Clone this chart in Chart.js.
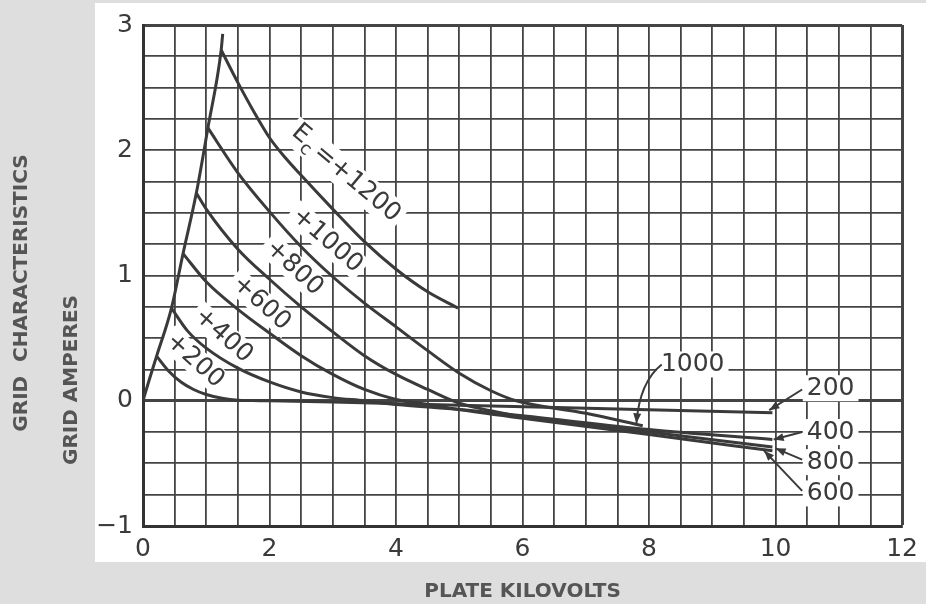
<!DOCTYPE html>
<html>
<head>
<meta charset="utf-8">
<script src="https://cdn.jsdelivr.net/npm/chart.js@4.4.1/dist/chart.umd.min.js"></script>
<style>
  html, body { margin: 0; padding: 0; background: #dedede; }
  #wrap { width: 926px; height: 604px; }
</style>
</head>
<body>
<div id="wrap"><canvas id="gridChart" width="926" height="604"></canvas></div>
<script>
// plate kilovolts vs grid amperes, one curve per grid voltage Ec
const xTickValues = [0, 2, 4, 6, 8, 10, 12];
const xTickLabels = ['0', '2', '4', '6', '8', '10', '12'];
const yTickValues = [-1, 0, 1, 2, 3];
const yTickLabels = ['\u22121', '0', '1', '2', '3'];

const envelope = [[0, 0], [0.1, 0.17], [0.215, 0.356], [0.45, 0.74], [0.633, 1.175], [0.843, 1.658], [1.026, 2.178], [1.236, 2.80], [1.26, 2.93]];
const ec200 = [[0.215, 0.356], [0.4, 0.24], [0.6, 0.15], [0.8, 0.09], [1.0, 0.05], [1.25, 0.02], [1.5, 0.005], [2, 0], [3, -0.01], [5, -0.035], [7.5, -0.065], [9.95, -0.095]];
const ec400 = [[0.45, 0.74], [0.7, 0.56], [1.0, 0.42], [1.5, 0.26], [2.0, 0.15], [2.5, 0.07], [3.0, 0.025], [3.5, 0.0], [4, -0.03], [5, -0.07], [6, -0.12], [8, -0.23], [9.95, -0.31]];
const ec600 = [[0.633, 1.175], [1.0, 0.95], [1.5, 0.73], [2.0, 0.54], [2.5, 0.36], [3.0, 0.21], [3.5, 0.09], [4.0, 0.01], [4.5, -0.03], [5, -0.07], [6, -0.14], [8, -0.27], [9.95, -0.40]];
const ec800 = [[0.843, 1.658], [1.0, 1.53], [1.5, 1.21], [2.0, 0.97], [2.5, 0.75], [3.0, 0.55], [3.5, 0.36], [4.0, 0.21], [4.5, 0.09], [5, -0.02], [5.5, -0.08], [6, -0.13], [8, -0.25], [9.95, -0.37]];
const ec1000 = [[1.026, 2.178], [1.5, 1.82], [2.0, 1.51], [2.5, 1.23], [3.0, 0.99], [3.5, 0.78], [4.0, 0.59], [4.5, 0.40], [5.0, 0.22], [5.5, 0.08], [5.9, 0.0], [7, -0.1], [7.9, -0.2]];
const ec1200 = [[1.236, 2.80], [1.5, 2.54], [1.75, 2.31], [2, 2.10], [2.25, 1.94], [2.5, 1.80], [3, 1.53], [3.5, 1.27], [4, 1.05], [4.5, 0.87], [4.98, 0.74]];

const ink = '#3a3a3a';
const titleInk = '#555555';
const fontFamily = '"DejaVu Sans", sans-serif';

function toPoints(arr) {
    return arr.map(p => ({ x: p[0], y: p[1] }));
}

function curve(label, arr) {
    return {
        label: label,
        data: toPoints(arr),
        borderColor: ink,
        borderWidth: 3,
        pointRadius: 0,
        showLine: true,
        fill: false,
        tension: 0.4,
        cubicInterpolationMode: 'monotone'
    };
}

// text placed along the curves, in data units
const slopeLabels = [
    { text: '+1000', x: 2.91, y: 1.28, angle: 41 },
    { text: '+800', x: 2.39, y: 1.06, angle: 43 },
    { text: '+600', x: 1.87, y: 0.78, angle: 42 },
    { text: '+400', x: 1.27, y: 0.52, angle: 42 },
    { text: '+200', x: 0.82, y: 0.32, angle: 42 }
];

const endLabels = [
    { text: '1000', x: 8.69, y: 0.29, from: [8.2, 0.29], to: [7.8, -0.18], bend: [7.85, 0.15] },
    { text: '200', x: 10.87, y: 0.10, from: [10.42, 0.09], to: [9.9, -0.075] },
    { text: '400', x: 10.87, y: -0.25, from: [10.42, -0.25], to: [9.97, -0.31] },
    { text: '800', x: 10.87, y: -0.49, from: [10.42, -0.47], to: [10.0, -0.38] },
    { text: '600', x: 10.87, y: -0.74, from: [10.42, -0.72], to: [9.82, -0.40] }
];

function sideTitle(ctx, text, x, y) {
    ctx.save();
    ctx.fillStyle = titleInk;
    ctx.font = 'bold 20px ' + fontFamily;
    ctx.textAlign = 'center';
    ctx.textBaseline = 'middle';
    ctx.translate(x, y);
    ctx.rotate(-Math.PI / 2);
    ctx.fillText(text, 0, 0);
    ctx.restore();
}

const paperPlugin = {
    id: 'paper',
    beforeDraw(chart) {
        const ctx = chart.ctx;
        ctx.save();
        ctx.fillStyle = '#dedede';
        ctx.fillRect(0, 0, chart.width, chart.height);
        ctx.fillStyle = '#ffffff';
        ctx.fillRect(95, 3, chart.width - 95, 559);
        ctx.restore();
    },
    afterDraw(chart) {
        sideTitle(chart.ctx, 'GRID  CHARACTERISTICS', 22, 293);
        sideTitle(chart.ctx, 'GRID AMPERES', 72, 380);
    }
};

function whiteBox(ctx, w, h) {
    ctx.fillStyle = '#ffffff';
    ctx.fillRect(-w / 2 - 4, -h / 2, w + 8, h);
}

const labelPlugin = {
    id: 'curveLabels',
    beforeDatasetsDraw(chart) {
        const ctx = chart.ctx;
        const xs = chart.scales.x;
        const ys = chart.scales.y;
        ctx.save();
        ctx.font = '25px ' + fontFamily;
        ctx.textBaseline = 'middle';

        slopeLabels.forEach(l => {
            ctx.save();
            ctx.translate(xs.getPixelForValue(l.x), ys.getPixelForValue(l.y));
            ctx.rotate(l.angle * Math.PI / 180);
            const w = ctx.measureText(l.text).width;
            whiteBox(ctx, w, 26);
            ctx.fillStyle = ink;
            ctx.textAlign = 'center';
            ctx.fillText(l.text, 0, 0);
            ctx.restore();
        });

        // Ec = +1200 with subscript c
        ctx.save();
        ctx.translate(xs.getPixelForValue(3.2), ys.getPixelForValue(1.81));
        ctx.rotate(40 * Math.PI / 180);
        ctx.font = '25px ' + fontFamily;
        const wE = ctx.measureText('E').width;
        const wRest = ctx.measureText('=+1200').width;
        ctx.font = '18px ' + fontFamily;
        const wc = ctx.measureText('c').width;
        const total = wE + wc + 4 + wRest;
        whiteBox(ctx, total, 30);
        ctx.fillStyle = ink;
        ctx.textAlign = 'left';
        let cx = -total / 2;
        ctx.font = '25px ' + fontFamily;
        ctx.fillText('E', cx, -2);
        cx += wE;
        ctx.font = '18px ' + fontFamily;
        ctx.fillText('c', cx, 7);
        cx += wc + 4;
        ctx.font = '25px ' + fontFamily;
        ctx.fillText('=+1200', cx, 0);
        ctx.restore();

        endLabels.forEach(l => {
            ctx.save();
            ctx.translate(xs.getPixelForValue(l.x), ys.getPixelForValue(l.y));
            const w = ctx.measureText(l.text).width;
            whiteBox(ctx, w, 26);
            ctx.fillStyle = ink;
            ctx.textAlign = 'center';
            ctx.fillText(l.text, 0, 0);
            ctx.restore();
        });
        ctx.restore();
    },
    afterDatasetsDraw(chart) {
        const ctx = chart.ctx;
        const xs = chart.scales.x;
        const ys = chart.scales.y;
        ctx.save();
        ctx.strokeStyle = ink;
        ctx.fillStyle = ink;
        ctx.lineWidth = 2;
        endLabels.forEach(l => {
            const x0 = xs.getPixelForValue(l.from[0]), y0 = ys.getPixelForValue(l.from[1]);
            const x1 = xs.getPixelForValue(l.to[0]), y1 = ys.getPixelForValue(l.to[1]);
            ctx.beginPath();
            ctx.moveTo(x0, y0);
            let ax = x0, ay = y0;
            if (l.bend) {
                const bx = xs.getPixelForValue(l.bend[0]), by = ys.getPixelForValue(l.bend[1]);
                ctx.quadraticCurveTo(bx, by, x1, y1);
                ax = bx; ay = by;
            } else {
                ctx.lineTo(x1, y1);
            }
            ctx.stroke();
            const a = Math.atan2(y1 - ay, x1 - ax);
            ctx.beginPath();
            ctx.moveTo(x1, y1);
            ctx.lineTo(x1 - 10 * Math.cos(a) + 4 * Math.sin(a), y1 - 10 * Math.sin(a) - 4 * Math.cos(a));
            ctx.lineTo(x1 - 10 * Math.cos(a) - 4 * Math.sin(a), y1 - 10 * Math.sin(a) + 4 * Math.cos(a));
            ctx.closePath();
            ctx.fill();
        });
        ctx.restore();
    }
};

const ctx = document.getElementById('gridChart').getContext('2d');
new Chart(ctx, {
    type: 'scatter',
    data: {
        datasets: [
            curve('envelope', envelope),
            curve('+200', ec200),
            curve('+400', ec400),
            curve('+600', ec600),
            curve('+800', ec800),
            curve('+1000', ec1000),
            curve('+1200', ec1200)
        ]
    },
    options: {
        responsive: false,
        animation: false,
        devicePixelRatio: 1,
        layout: { padding: { left: 0, right: 19, top: 20, bottom: 0 } },
        plugins: {
            legend: { display: false },
            tooltip: { enabled: false }
        },
        scales: {
            x: {
                type: 'linear',
                min: 0,
                max: 12,
                afterFit: s => { s.height = 78; },
                ticks: {
                    stepSize: 0.5,
                    autoSkip: false,
                    maxRotation: 0,
                    padding: 8,
                    color: ink,
                    font: { family: fontFamily, size: 25 },
                    callback: v => {
                        const i = xTickValues.indexOf(v);
                        return i >= 0 ? xTickLabels[i] : '';
                    }
                },
                grid: {
                    color: '#444444',
                    drawTicks: false,
                    lineWidth: c => (c.tick && c.tick.value === 12 ? 3 : 1.8)
                },
                border: { color: '#333333', width: 3 },
                title: {
                    display: true,
                    text: 'PLATE KILOVOLTS',
                    color: titleInk,
                    font: { family: fontFamily, size: 20, weight: 'bold' },
                    padding: { top: 0, bottom: 0 }
                }
            },
            y: {
                min: -1,
                max: 3,
                afterFit: s => { s.width = 143; },
                ticks: {
                    stepSize: 0.25,
                    autoSkip: false,
                    padding: 10,
                    color: ink,
                    font: { family: fontFamily, size: 25 },
                    callback: v => {
                        const i = yTickValues.indexOf(v);
                        return i >= 0 ? yTickLabels[i] : '';
                    }
                },
                grid: {
                    color: '#444444',
                    drawTicks: false,
                    lineWidth: c => (c.tick && (c.tick.value === 0 || c.tick.value === 3) ? 3 : 1.8)
                },
                border: { color: '#333333', width: 3 }
            }
        }
    },
    plugins: [paperPlugin, labelPlugin]
});
</script>
</body>
</html>
